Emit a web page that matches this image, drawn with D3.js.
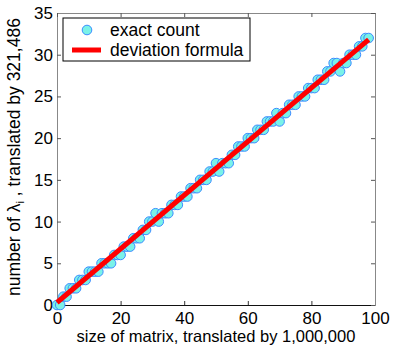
<!DOCTYPE html>
<html>
<head>
<meta charset="utf-8">
<script src="https://cdn.jsdelivr.net/npm/d3@7"></script>
<style>
  body { margin: 0; background: #fff; }
  svg { display: block; font-family: "Liberation Sans", Arial, sans-serif; }
</style>
</head>
<body>
<svg id="chart" width="393" height="346"></svg>
<script>
// data
const sizes = d3.range(0, 99); // 0..98
const counts = [0,0,1,1,2,2,2,3,3,3,4,4,4,4,5,5,5,5,6,6,6,7,7,7,8,8,8,9,9,10,
  10,11,10,11,11,11,12,12,12,13,13,13,14,14,14,15,15,15,16,16,17,16,17,17,17,18,18,19,19,19,
  20,20,20,21,21,21,22,22,22,23,22,23,23,24,24,24,25,25,25,26,26,26,27,27,27,28,28,29,29,28,
  29,29,30,30,30,31,31,32,32];
const formulaX = [0, 98];
const formulaY = [0.3, 31.8];
const xTicks = [0, 20, 40, 60, 80, 100];
const yTicks = [0, 5, 10, 15, 20, 25, 30, 35];

const svg = d3.select('#chart');
const mLeft = 57, mRight = 375, mTop = 13, mBottom = 305;

const x = d3.scaleLinear().domain([0, 100]).range([mLeft, mRight]);
const y = d3.scaleLinear().domain([0, 35]).range([mBottom, mTop]);

// axes, ticks pointing inward
svg.append('g').attr('transform', `translate(0,${mBottom})`)
  .call(d3.axisBottom(x).tickValues(xTicks).tickSizeInner(-4).tickSizeOuter(0).tickPadding(7))
  .call(g => g.select('.domain').attr('stroke', '#111'))
  .call(g => g.selectAll('line').attr('stroke', '#333'))
  .call(g => g.selectAll('text').attr('font-size', 17).attr('fill', '#000'));

svg.append('g').attr('transform', `translate(${mLeft},0)`)
  .call(d3.axisLeft(y).tickValues(yTicks).tickSizeInner(-4).tickSizeOuter(0).tickPadding(4))
  .call(g => g.select('.domain').attr('stroke', '#888'))
  .call(g => g.selectAll('line').attr('stroke', '#555'))
  .call(g => g.selectAll('text').attr('font-size', 17).attr('fill', '#000'));

svg.append('g').attr('transform', `translate(0,${mTop})`)
  .call(d3.axisTop(x).tickValues(xTicks).tickSizeInner(-4).tickSizeOuter(0).tickFormat(''))
  .call(g => g.select('.domain').attr('stroke', '#888'))
  .call(g => g.selectAll('line').attr('stroke', '#555'));

svg.append('g').attr('transform', `translate(${mRight},0)`)
  .call(d3.axisRight(y).tickValues(yTicks).tickSizeInner(-4).tickSizeOuter(0).tickFormat(''))
  .call(g => g.select('.domain').attr('stroke', '#888'))
  .call(g => g.selectAll('line').attr('stroke', '#555'));

// exact count markers
svg.append('g').selectAll('circle')
  .data(sizes)
  .join('circle')
  .attr('cx', d => x(d))
  .attr('cy', (d, i) => y(counts[i]))
  .attr('r', 4.8)
  .attr('fill', '#7af2e8')
  .attr('stroke', '#3c8cff')
  .attr('stroke-width', 1);

// deviation formula line
svg.append('path')
  .datum(formulaX.map((d, i) => [d, formulaY[i]]))
  .attr('d', d3.line().x(d => x(d[0])).y(d => y(d[1])))
  .attr('stroke', '#ff0000')
  .attr('stroke-width', 5)
  .attr('fill', 'none');

// legend
const lg = svg.append('g');
lg.append('rect').attr('x', 63).attr('y', 18).attr('width', 187).attr('height', 43)
  .attr('fill', '#fff').attr('stroke', '#000').attr('stroke-width', 1);
lg.append('circle').attr('cx', 87).attr('cy', 30).attr('r', 4.8)
  .attr('fill', '#7af2e8').attr('stroke', '#3c8cff');
lg.append('line').attr('x1', 72).attr('x2', 101).attr('y1', 50).attr('y2', 50)
  .attr('stroke', '#ff0000').attr('stroke-width', 5);
lg.append('text').attr('x', 110).attr('y', 36).attr('font-size', 17.5).text('exact count');
lg.append('text').attr('x', 110).attr('y', 56).attr('font-size', 17.5).text('deviation formula');

// axis labels
svg.append('text').attr('x', 216).attr('y', 342)
  .attr('text-anchor', 'middle').attr('font-size', 16.5)
  .text('size of matrix, translated by 1,000,000');

const yl = svg.append('text')
  .attr('transform', `translate(20,157) rotate(-90)`)
  .attr('text-anchor', 'middle').attr('font-size', 17.5);
yl.append('tspan').text('number of λ');
yl.append('tspan').attr('font-size', 11).attr('dy', 4).text('i');
yl.append('tspan').attr('dy', -4).text(' , translated by  321,486');
</script>
</body>
</html>
